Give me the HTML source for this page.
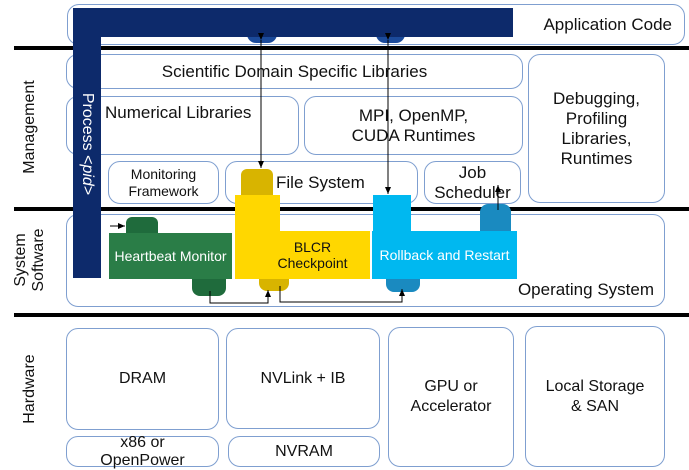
<!DOCTYPE html><html><head><style>
body{margin:0;width:689px;height:468px;background:#fff;position:relative;overflow:hidden;font-family:"Liberation Sans",sans-serif;color:#111}
.b{position:absolute;border:1.3px solid #7f9fd0;border-radius:12px;box-sizing:border-box;display:flex;align-items:center;justify-content:center;text-align:center;font-size:16px;line-height:20px}
.l{position:absolute;left:14px;height:4px;width:675px;background:#000}
.v{position:absolute;transform:rotate(-90deg);font-size:16px;text-align:center;line-height:18px;white-space:nowrap}
.f{position:absolute}
</style></head><body>
<div class="l" style="top:46px"></div>
<div class="l" style="top:207px"></div>
<div class="l" style="top:313px"></div>
<div class="b" style="left:67px;top:4px;width:618px;height:41px;justify-content:flex-end;padding-right:12px;font-size:17px">Application Code</div>
<div class="b" style="left:66px;top:54px;width:457px;height:35px;font-size:17px">Scientific Domain Specific Libraries</div>
<div class="b" style="left:66px;top:96px;width:233px;height:59px;align-items:flex-start;justify-content:flex-start;padding-top:6px;padding-left:38px;font-size:17px">Numerical Libraries</div>
<div class="b" style="left:304px;top:96px;width:219px;height:59px;font-size:17px">MPI, OpenMP,<br>CUDA Runtimes</div>
<div class="b" style="left:528px;top:54px;width:137px;height:149px;font-size:17px">Debugging,<br>Profiling<br>Libraries,<br>Runtimes</div>
<div class="b" style="left:108px;top:161px;width:111px;height:43px;font-size:14px;line-height:17px">Monitoring<br>Framework</div>
<div class="b" style="left:225px;top:161px;width:193px;height:43px;padding-left:50px;justify-content:flex-start;font-size:17px">File System</div>
<div class="b" style="left:424px;top:161px;width:97px;height:43px;font-size:17px">Job<br>Scheduler</div>
<div class="b" style="left:66px;top:214px;width:599px;height:93px;align-items:flex-end;justify-content:flex-end;padding:0 10px 6px 0;font-size:17px">Operating System</div>
<div class="b" style="left:66px;top:328px;width:153px;height:102px">DRAM</div>
<div class="b" style="left:226px;top:328px;width:154px;height:101px">NVLink + IB</div>
<div class="b" style="left:66px;top:436px;width:153px;height:31px;line-height:18px">x86 or<br>OpenPower</div>
<div class="b" style="left:228px;top:436px;width:152px;height:31px">NVRAM</div>
<div class="b" style="left:388px;top:327px;width:126px;height:140px">GPU or<br>Accelerator</div>
<div class="b" style="left:525px;top:326px;width:140px;height:141px">Local Storage<br>&amp; SAN</div>
<div class="v" style="left:-20px;top:118px;width:100px">Management</div>
<div class="v" style="left:-10px;top:242px;width:80px">System<br>Software</div>
<div class="v" style="left:-10px;top:380px;width:80px">Hardware</div>
<div class="f" style="left:247px;top:34px;width:30px;height:9px;background:#1b4a9a;border-radius:0 0 10px 10px"></div>
<div class="f" style="left:376px;top:34px;width:29px;height:9px;background:#1b4a9a;border-radius:0 0 10px 10px"></div>
<div class="f" style="left:241px;top:169px;width:32px;height:30px;background:#d8b400;border-radius:6px 6px 0 0"></div>
<div class="f" style="left:126px;top:217px;width:32px;height:18px;background:#1f6b3c;border-radius:6px 6px 0 0"></div>
<div class="f" style="left:192px;top:276px;width:34px;height:20px;background:#1f6b3c;border-radius:0 0 8px 8px"></div>
<div class="f" style="left:259px;top:276px;width:30px;height:15px;background:#d8b400;border-radius:0 0 8px 8px"></div>
<div class="f" style="left:386px;top:276px;width:34px;height:16px;background:#1a8ac0;border-radius:0 0 8px 8px"></div>
<div class="f" style="left:480px;top:204px;width:31px;height:30px;background:#1a8ac0;border-radius:8px 8px 0 0"></div>
<div class="f" style="left:73px;top:8px;width:440px;height:29px;background:#0d2a6b"></div>
<div class="f" style="left:73px;top:8px;width:28px;height:270px;background:#0d2a6b"></div>
<div class="v" style="left:27px;top:135px;width:120px;color:#fff;transform:rotate(90deg)">Process &lt;<i>pid</i>&gt;</div>
<div class="f" style="left:109px;top:233px;width:123px;height:46px;background:#2a7d47;color:#fff;font-size:14px;display:flex;align-items:center;justify-content:center">Heartbeat Monitor</div>
<div class="f" style="left:235px;top:195px;width:45px;height:40px;background:#ffd700"></div>
<div class="f" style="left:235px;top:231px;width:135px;height:48px;background:#ffd700;font-size:14px;line-height:16px;display:flex;align-items:center;justify-content:center;text-align:center;padding-left:20px;box-sizing:border-box">BLCR<br>Checkpoint</div>
<div class="f" style="left:373px;top:195px;width:38px;height:40px;background:#00b8f0"></div>
<div class="f" style="left:372px;top:231px;width:145px;height:48px;background:#00b8f0;color:#fff;font-size:14px;display:flex;align-items:center;justify-content:center">Rollback and Restart</div>
<svg class="f" style="left:0;top:0" width="689" height="468"><defs><marker id="a" markerWidth="8" markerHeight="8" refX="7" refY="4" orient="auto"><path d="M0,1L7,4L0,7z" fill="#000"/></marker></defs>
<g stroke="#000" stroke-width="1" fill="none">
<line x1="261" y1="40" x2="261" y2="168" marker-end="url(#a)" marker-start="url(#a)"/>
<line x1="388" y1="40" x2="388" y2="194" marker-end="url(#a)" marker-start="url(#a)"/>
<line x1="110" y1="226" x2="125" y2="226" marker-end="url(#a)"/>
<line x1="498" y1="210" x2="498" y2="185" marker-end="url(#a)"/>
<polyline points="210,291 210,303 268,303 268,290" marker-end="url(#a)"/>
<polyline points="280,286 280,302 402,302 402,289" marker-end="url(#a)"/>
</g></svg>
</body></html>
